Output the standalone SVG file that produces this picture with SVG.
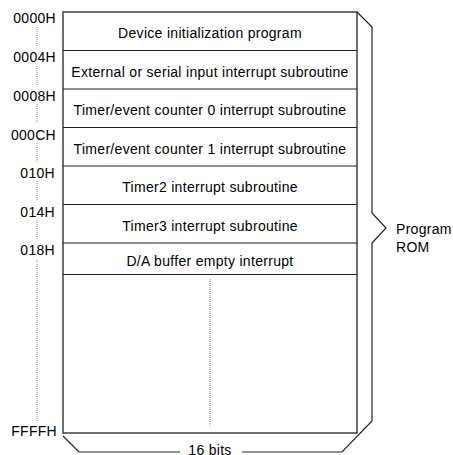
<svg xmlns="http://www.w3.org/2000/svg" width="453" height="455" viewBox="0 0 453 455">
<style>
text{font-family:"Liberation Sans",Arial,sans-serif;font-size:14px;letter-spacing:0.3px;fill:#000}
.c{text-anchor:middle}
.r{text-anchor:end}
.box{fill:#fff;stroke:#222;stroke-width:1.3}
.row{stroke:#222;stroke-width:1.2;fill:none}
.dot{stroke:#888;stroke-width:1;stroke-dasharray:1 1;fill:none}
.br{stroke:#222;stroke-width:1.2;fill:none}
</style>
<rect class="box" x="63" y="12" width="294" height="421"/>
<g id="row-0000H">
<text class="r" x="56" y="22.5">0000H</text>
<text class="c" x="210" y="38.3">Device initialization program</text>
</g>
<g id="row-0004H">
<line class="row" x1="63" y1="50.5" x2="357" y2="50.5"/>
<text class="r" x="56" y="61.5">0004H</text>
<text class="c" x="210" y="76.8">External or serial input interrupt subroutine</text>
</g>
<g id="row-0008H">
<line class="row" x1="63" y1="89" x2="357" y2="89"/>
<text class="r" x="56" y="100.5">0008H</text>
<text class="c" x="210" y="115.3">Timer/event counter 0 interrupt subroutine</text>
</g>
<g id="row-000CH">
<line class="row" x1="63" y1="127.5" x2="357" y2="127.5"/>
<text class="r" x="56" y="139.5">000CH</text>
<text class="c" x="210" y="153.8">Timer/event counter 1 interrupt subroutine</text>
</g>
<g id="row-010H">
<line class="row" x1="63" y1="166" x2="357" y2="166"/>
<text class="r" x="55" y="178">010H</text>
<text class="c" x="210" y="192.3">Timer2 interrupt subroutine</text>
</g>
<g id="row-014H">
<line class="row" x1="63" y1="204.5" x2="357" y2="204.5"/>
<text class="r" x="55" y="216.5">014H</text>
<text class="c" x="210" y="230.8">Timer3 interrupt subroutine</text>
</g>
<g id="row-018H">
<line class="row" x1="63" y1="243" x2="357" y2="243"/>
<line class="row" x1="63" y1="274.5" x2="357" y2="274.5"/>
<text class="r" x="55" y="255">018H</text>
<text class="c" x="210" y="265.8">D/A buffer empty interrupt</text>
</g>
<g id="row-FFFFH">
<text class="r" x="57" y="436">FFFFH</text>
</g>
<g id="connectors">
<line class="dot" x1="37" y1="27" x2="37" y2="46"/>
<line class="dot" x1="37" y1="66" x2="37" y2="85"/>
<line class="dot" x1="37" y1="104" x2="37" y2="123"/>
<line class="dot" x1="37" y1="143" x2="37" y2="162"/>
<line class="dot" x1="37" y1="181" x2="37" y2="200"/>
<line class="dot" x1="37" y1="220" x2="37" y2="239"/>
<line class="dot" x1="37" y1="260" x2="37" y2="421"/>
<line class="dot" x1="210" y1="279" x2="210" y2="427"/>
<polyline class="br" points="357,12 372,27 372,213 386,228 372,243 372,421 342,452 242,452"/>
<polyline class="br" points="63,436 79,452 180,452"/>
</g>
<g id="labels">
<text x="396" y="234">Program</text>
<text x="396" y="252">ROM</text>
<text class="c" x="210" y="454.5">16 bits</text>
</g>
</svg>
